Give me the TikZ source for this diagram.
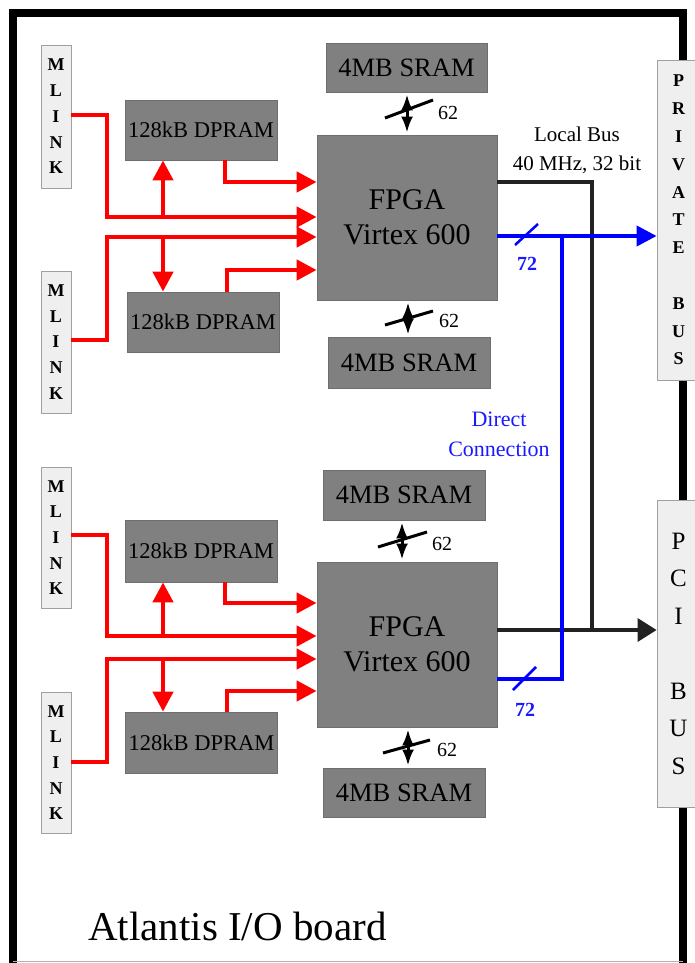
\documentclass[tikz,border=0pt]{standalone}
\usepackage{fontspec}
\setmainfont{Liberation Serif}
\usetikzlibrary{arrows.meta}
\definecolor{boxgray}{HTML}{808080}
\definecolor{boxedge}{HTML}{6E6E6E}
\definecolor{linkfill}{HTML}{EFEFEF}
\definecolor{linkedge}{HTML}{A0A0A0}
\definecolor{busblack}{HTML}{222222}
\definecolor{dcblue}{HTML}{1A1AFF}
\tikzset{
  darkbox/.style={fill=boxgray, draw=boxedge, line width=0.8pt, inner sep=0pt},
  linkbox/.style={fill=linkfill, draw=linkedge, line width=0.8pt, inner sep=0pt, align=center},
  mlinkbox/.style={linkbox, minimum width=30pt, font=\fontsize{18}{25.7}\selectfont\bfseries},
  srambox/.style={darkbox, minimum width=162pt, minimum height=50pt, font=\fontsize{26.5}{30}\selectfont},
  drambox/.style={darkbox, minimum width=152pt, minimum height=61pt, font=\fontsize{22.5}{26}\selectfont},
  fpgabox/.style={darkbox, minimum width=180pt, minimum height=165pt, align=center, font=\fontsize{30}{35}\selectfont},
  redln/.style={draw=red, line width=4.5pt},
  redarr/.style={redln, -{Triangle[length=20pt,width=20pt]}},
  blueln/.style={draw=blue, line width=4pt},
  bluearr/.style={blueln, -{Triangle[length=20pt,width=20pt]}},
  blackln/.style={draw=busblack, line width=3.5pt},
  blackarr/.style={blackln, -{Triangle[length=19pt,width=23pt]}},
  dblarr/.style={draw=black, line width=3pt, {Latex[length=16pt,width=12pt]}-{Latex[length=16pt,width=12pt]}, shorten <=2pt, shorten >=2pt},
  slashblk/.style={draw=black, line width=3pt},
  slashblu/.style={draw=blue, line width=2.5pt},
  numlbl/.style={font=\fontsize{20}{22}\selectfont, inner sep=0pt},
  bluelbl/.style={numlbl, text=dcblue, font=\fontsize{20}{22}\selectfont\bfseries},
}
\begin{document}
\begin{tikzpicture}[x=1pt,y=-1pt]
\useasboundingbox (0,0) rectangle (694,963);
\fill[white] (0,0) rectangle (694,963);
% board outline
\draw[black, line width=8pt] (13,963) -- (13,13) -- (683,13) -- (683,963);
\draw[gray!60, line width=1pt] (13,961) -- (683,961);
% bus connectors
\node[linkbox, minimum width=43pt, minimum height=320pt, font=\fontsize{18}{27.8}\selectfont\bfseries] (pbus) at (678.5,220) {P\\R\\I\\V\\A\\T\\E\\\mbox{}\\B\\U\\S};
\node[linkbox, minimum width=43pt, minimum height=307pt, font=\fontsize{25}{37.5}\selectfont] (pci) at (678.5,653.5) {P\\C\\I\\\mbox{}\\B\\U\\S};
% MLINK boxes
\node[mlinkbox, minimum height=143pt] (mlink1) at (56,116.5) {M\\L\\I\\N\\K};
\node[mlinkbox, minimum height=142pt] (mlink2) at (56,342) {M\\L\\I\\N\\K};
\node[mlinkbox, minimum height=141pt] (mlink3) at (56,537.5) {M\\L\\I\\N\\K};
\node[mlinkbox, minimum height=141pt] (mlink4) at (56,762.5) {M\\L\\I\\N\\K};
% memory and FPGA boxes (upper)
\node[srambox, minimum width=161pt, minimum height=49pt] (sram1) at (406.5,67.5) {4MB SRAM};
\node[fpgabox] (fpga1) at (407,217.5) {FPGA\\Virtex 600};
\node[srambox, minimum height=51pt] (sram2) at (409,362.5) {4MB SRAM};
\node[drambox, minimum height=60pt] (dpram1) at (201,130) {128kB DPRAM};
\node[drambox, minimum height=60pt] (dpram2) at (203,322) {128kB DPRAM};
% lower
\node[srambox] (sram3) at (404,495) {4MB SRAM};
\node[fpgabox] (fpga2) at (407,644.5) {FPGA\\Virtex 600};
\node[srambox, minimum height=49pt] (sram4) at (404,792.5) {4MB SRAM};
\node[drambox, minimum height=62pt] (dpram3) at (201,551) {128kB DPRAM};
\node[drambox] (dpram4) at (201.5,742.5) {128kB DPRAM};
% red links (upper)
\draw[redarr] (mlink1.east |- 0,115) -- (107,115) -- (107,217) -- (fpga1.west |- 0,217);
\draw[redarr] (mlink2.east |- 0,340) -- (107,340) -- (107,237) -- (fpga1.west |- 0,237);
\draw[redarr] (163,217) -- (dpram1.south -| 163,0);
\draw[redarr] (163,237) -- (dpram2.north -| 163,0);
\draw[redarr] (dpram1.south -| 225,0) -- (225,182) -- (fpga1.west |- 0,182);
\draw[redarr] (dpram2.north -| 227,0) -- (227,270) -- (fpga1.west |- 0,270);
% red links (lower)
\draw[redarr] (mlink3.east |- 0,535) -- (107,535) -- (107,636) -- (fpga2.west |- 0,636);
\draw[redarr] (mlink4.east |- 0,762) -- (107,762) -- (107,659) -- (fpga2.west |- 0,659);
\draw[redarr] (163,636) -- (dpram3.south -| 163,0);
\draw[redarr] (163,659) -- (dpram4.north -| 163,0);
\draw[redarr] (dpram3.south -| 225,0) -- (225,603) -- (fpga2.west |- 0,603);
\draw[redarr] (dpram4.north -| 227,0) -- (227,691) -- (fpga2.west |- 0,691);
% SRAM links
\draw[dblarr] (sram1.south -| 407,0) -- (fpga1.north -| 407,0);
\draw[slashblk] (385,118) -- (433,100);
\node[numlbl] (l62a) at (448,113) {62};
\draw[dblarr] (fpga1.south -| 408,0) -- (sram2.north -| 408,0);
\draw[slashblk] (385,325) -- (433,311);
\node[numlbl] (l62b) at (449,321) {62};
\draw[dblarr] (sram3.south -| 402,0) -- (fpga2.north -| 402,0);
\draw[slashblk] (378,547) -- (427,532);
\node[numlbl] (l62c) at (442,544) {62};
\draw[dblarr] (fpga2.south -| 408,0) -- (sram4.north -| 408,0);
\draw[slashblk] (383,753) -- (430,740);
\node[numlbl] (l62d) at (447,750) {62};
% local bus
\draw[blackln] (fpga1.east |- 0,182) -- (592,182) -- (592,630);
\draw[blackarr] (fpga2.east |- 0,630) -- (pci.west |- 0,630);
\node[font=\fontsize{21}{29}\selectfont, align=center, inner sep=0pt] (lbus) at (577,150) {Local Bus\\40 MHz, 32 bit};
% direct connection
\draw[bluearr] (fpga1.east |- 0,236) -- (pbus.west |- 0,236);
\draw[blueln] (562,236) -- (562,679) -- (fpga2.east |- 0,679);
\draw[slashblu] (515,245) -- (538,224);
\node[bluelbl] (l72a) at (527,264) {72};
\draw[slashblu] (513,690) -- (536,667);
\node[bluelbl] (l72b) at (525,710) {72};
\node[font=\fontsize{22}{30}\selectfont, align=center, text=dcblue, inner sep=0pt] (dconn) at (499,434) {Direct\\Connection};
% title
\node[font=\fontsize{41}{46}\selectfont, anchor=base west, inner sep=0pt] (title) at (88,940) {Atlantis I/O board};
\end{tikzpicture}
\end{document}
